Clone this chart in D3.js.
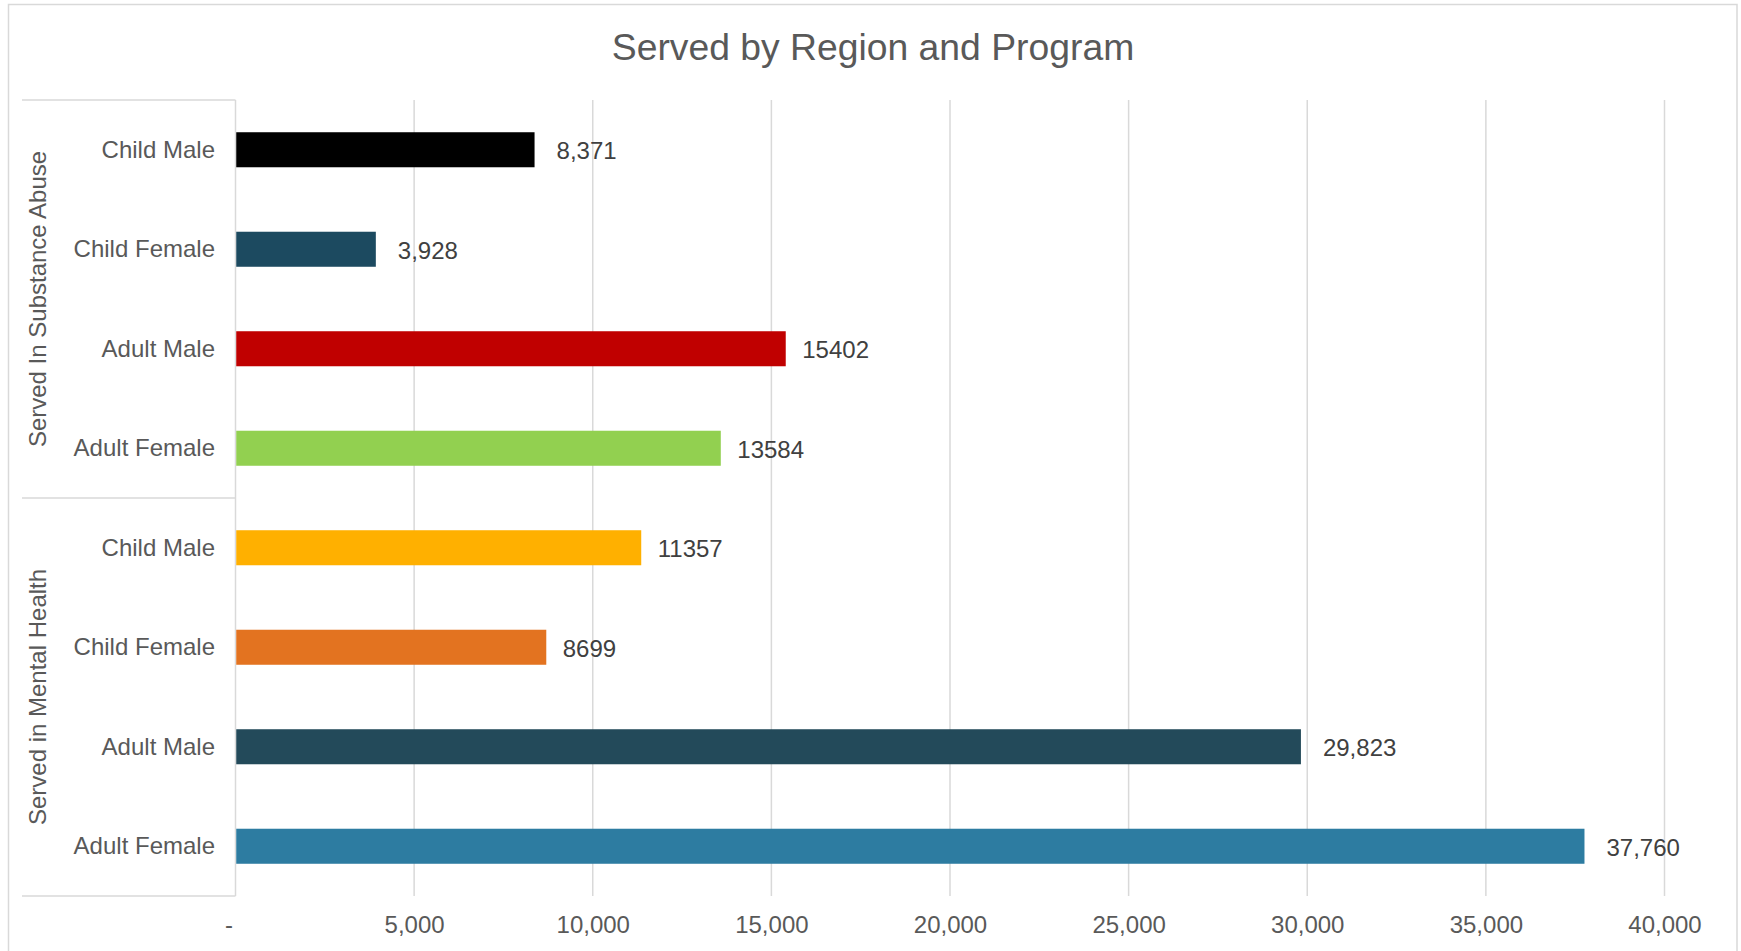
<!DOCTYPE html>
<html>
<head>
<meta charset="utf-8">
<script src="https://cdn.jsdelivr.net/npm/d3@7/dist/d3.min.js"></script>
<style>
  html, body { margin: 0; padding: 0; background: #fff; }
  svg { display: block; font-family: "Liberation Sans", Arial, sans-serif; }
</style>
</head>
<body>
<svg id="chart" width="1741" height="951"></svg>
<script>
const title = "Served by Region and Program";
const groups = ["Served In Substance Abuse", "Served in Mental Health"];
const categories = ["Child Male", "Child Female", "Adult Male", "Adult Female",
                    "Child Male", "Child Female", "Adult Male", "Adult Female"];
const groupOf = [0, 0, 0, 0, 1, 1, 1, 1];
const values = [8371, 3928, 15402, 13584, 11357, 8699, 29823, 37760];
const valueLabels = ["8,371", "3,928", "15402", "13584", "11357", "8699", "29,823", "37,760"];
const barColors = ["#000000", "#1c4a60", "#c00000", "#92d050",
                   "#ffb000", "#e37320", "#234a5a", "#2d7ca1"];
const xTicks = [0, 5000, 10000, 15000, 20000, 25000, 30000, 35000, 40000];
const xTickLabels = ["-", "5,000", "10,000", "15,000", "20,000", "25,000", "30,000", "35,000", "40,000"];

const svg = d3.select("#chart");
const grid = "#d9d9d9";
const FONT = 24;

// outer chart border
svg.append("rect")
  .attr("x", 8.5).attr("y", 4.5)
  .attr("width", 1728.5).attr("height", 990)
  .attr("fill", "#fff").attr("stroke", grid).attr("stroke-width", 1.5);

const plotTop = 100, plotBottom = 896;
const x = d3.scaleLinear().domain([0, 40000]).range([235.5, 1664.5]);
const y = d3.scaleBand()
  .domain(d3.range(categories.length))
  .range([plotTop, plotBottom])
  .paddingInner(0.648).paddingOuter(0.324);

// title
svg.append("text")
  .attr("x", 873).attr("y", 60)
  .attr("text-anchor", "middle")
  .attr("fill", "#595959")
  .attr("font-size", 37.3)
  .text(title);

// gridlines
svg.append("g").selectAll("line")
  .data(xTicks.slice(1))
  .join("line")
  .attr("x1", d => x(d)).attr("x2", d => x(d))
  .attr("y1", plotTop).attr("y2", plotBottom)
  .attr("stroke", grid).attr("stroke-width", 1.5);

// x axis labels
const xAxis = d3.axisBottom(x)
  .tickValues(xTicks)
  .tickSize(0)
  .tickPadding(0)
  .tickFormat((d, i) => xTickLabels[i]);
const xg = svg.append("g").attr("transform", `translate(0, 916)`).call(xAxis);
xg.select(".domain").remove();
xg.selectAll("text")
  .attr("font-size", FONT)
  .attr("font-family", "'Liberation Sans', Arial, sans-serif")
  .attr("fill", "#595959")
  .attr("dy", "0.7em")
  .attr("dx", (d, i) => i === 0 ? -7 : 0);

// category box lines
const boxLeft = 22;
const sepY = (y(3) + y.bandwidth() + y(4)) / 2;
const box = svg.append("g").attr("stroke", grid).attr("stroke-width", 1.5);
[plotTop, sepY, plotBottom].forEach(yy => {
  box.append("line").attr("x1", boxLeft).attr("x2", x(0)).attr("y1", yy).attr("y2", yy);
});
box.append("line").attr("x1", x(0)).attr("x2", x(0)).attr("y1", plotTop).attr("y2", plotBottom);

// bars
svg.append("g").selectAll("rect")
  .data(values)
  .join("rect")
  .attr("x", x(0) + 0.75)
  .attr("y", (d, i) => y(i))
  .attr("width", d => x(d) - x(0) - 0.75)
  .attr("height", y.bandwidth())
  .attr("fill", (d, i) => barColors[i]);

// data labels (comma-formatted labels carry extra leading padding)
svg.append("g").selectAll("text")
  .data(values)
  .join("text")
  .attr("x", (d, i) => x(d) + (valueLabels[i].includes(",") ? 22 : 16.5))
  .attr("y", (d, i) => y(i) + y.bandwidth() / 2 + 1)
  .attr("dy", "0.35em")
  .attr("font-size", FONT)
  .attr("fill", "#404040")
  .text((d, i) => valueLabels[i]);

// category labels
svg.append("g").selectAll("text")
  .data(categories)
  .join("text")
  .attr("x", 215)
  .attr("y", (d, i) => y(i) + y.bandwidth() / 2)
  .attr("dy", "0.33em")
  .attr("text-anchor", "end")
  .attr("font-size", FONT)
  .attr("fill", "#595959")
  .text(d => d);

// group labels
const groupBounds = [[plotTop, sepY], [sepY, plotBottom]];
svg.append("g").selectAll("text")
  .data(groups)
  .join("text")
  .attr("transform", (d, i) => `translate(46, ${(groupBounds[i][0] + groupBounds[i][1]) / 2}) rotate(-90)`)
  .attr("text-anchor", "middle")
  .attr("font-size", FONT)
  .attr("fill", "#595959")
  .text(d => d);
</script>
</body>
</html>
